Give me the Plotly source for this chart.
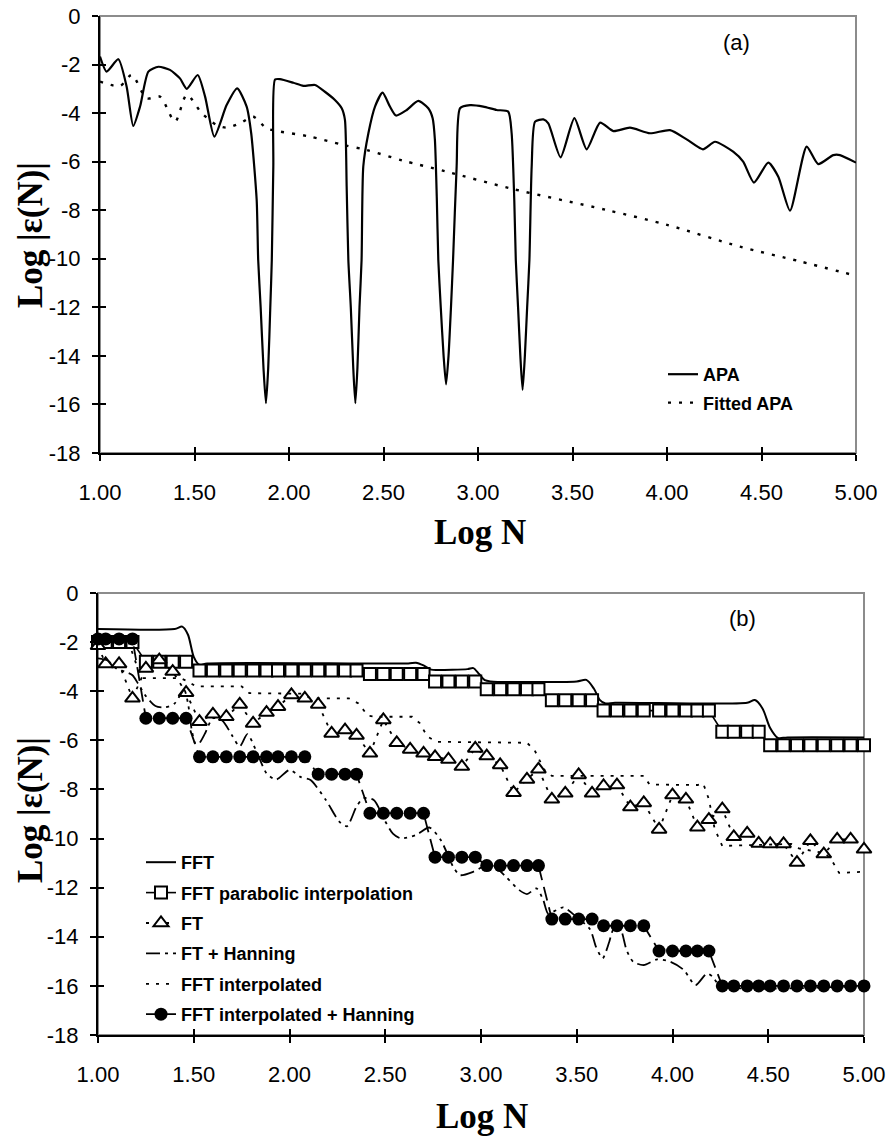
import plotly.graph_objects as go

# ---------------- Panel (a) data ----------------
apa_x = [1.000, 1.035, 1.097, 1.141, 1.176, 1.212, 1.256, 1.309, 1.370, 1.423, 1.459, 1.517,
         1.556, 1.605, 1.670, 1.726, 1.776, 1.800, 1.829, 1.837, 1.850, 1.865, 1.878, 1.890,
         1.901, 1.909, 1.917, 1.926, 1.952, 2.023, 2.076, 2.138, 2.190, 2.243, 2.279, 2.296,
         2.305, 2.314, 2.327, 2.340, 2.351, 2.362, 2.373, 2.384, 2.393, 2.420, 2.455, 2.495,
         2.534, 2.566, 2.623, 2.684, 2.737, 2.760, 2.772, 2.782, 2.790, 2.803, 2.818, 2.831,
         2.844, 2.857, 2.868, 2.887, 2.905, 2.958, 3.028, 3.098, 3.160, 3.178, 3.192, 3.200,
         3.212, 3.224, 3.236, 3.248, 3.260, 3.272, 3.284, 3.302, 3.346, 3.372, 3.437, 3.510,
         3.575, 3.646, 3.716, 3.804, 3.910, 4.016, 4.104, 4.190, 4.254, 4.350, 4.403, 4.460,
         4.536, 4.589, 4.651, 4.739, 4.800, 4.880, 4.915, 5.000]
apa_y = [-1.67, -2.29, -1.78, -2.91, -4.53, -3.73, -2.29, -2.09, -2.22, -2.57, -3.00, -2.43,
         -3.32, -4.97, -3.67, -2.98, -3.73, -4.83, -7.58, -10.05, -12.0, -14.5, -15.95, -14.5,
         -12.0, -10.05, -6.2, -2.62, -2.60, -2.75, -2.88, -2.84, -3.12, -3.46, -3.80, -4.28,
         -7.0, -10.05, -12.0, -14.5, -15.95, -14.5, -12.0, -10.05, -6.2, -4.83, -3.73, -3.16,
         -3.73, -4.10, -3.87, -3.50, -3.80, -4.21, -5.1, -7.5, -10.05, -12.0, -14.0, -15.17,
         -14.0, -12.0, -10.05, -6.2, -3.80, -3.67, -3.73, -3.87, -3.94, -4.83, -7.6, -10.05,
         -12.0, -14.0, -15.4, -14.0, -12.0, -10.05, -6.2, -4.35, -4.26, -4.42, -5.82, -4.21,
         -5.49, -4.39, -4.74, -4.60, -4.83, -4.70, -5.08, -5.49, -5.18, -5.59, -6.00, -6.86,
         -6.04, -6.62, -8.02, -5.38, -6.10, -5.73, -5.73, -6.04]

fit_x = [1.000, 1.106, 1.168, 1.247, 1.317, 1.397, 1.459, 1.538, 1.617, 1.670, 1.741, 1.811,
         1.882, 1.952, 2.100, 2.287, 2.411, 2.600, 2.834, 3.170, 3.680, 4.000, 4.386, 4.700, 5.000]
fit_y = [-2.70, -2.88, -2.43, -3.39, -3.32, -4.35, -3.25, -4.00, -4.49, -4.60, -4.42, -4.15,
         -4.63, -4.76, -4.95, -5.31, -5.52, -5.95, -6.41, -7.10, -7.99, -8.60, -9.50, -10.10, -10.70]

# ---------------- Panel (b) data ----------------
logN = [1.00, 1.04, 1.11, 1.18, 1.25, 1.32, 1.39, 1.46, 1.53, 1.60, 1.67, 1.74, 1.81, 1.88, 1.94,
        2.01, 2.08, 2.15, 2.22, 2.29, 2.35, 2.42, 2.49, 2.56, 2.63, 2.70, 2.76, 2.83, 2.90, 2.97,
        3.03, 3.10, 3.17, 3.24, 3.30, 3.37, 3.44, 3.51, 3.58, 3.64, 3.71, 3.78, 3.85, 3.93, 4.00,
        4.07, 4.13, 4.19, 4.26, 4.32, 4.39, 4.45, 4.51, 4.58, 4.65, 4.72, 4.79, 4.86, 4.93, 5.00]

fft_parabolic = [-2.0, -2.0, -2.0, -2.0,
                 -2.8, -2.8, -2.8, -2.8,
                 -3.16, -3.16, -3.16, -3.16, -3.16, -3.16, -3.16, -3.16, -3.16, -3.16, -3.16, -3.16, -3.16,
                 -3.3, -3.3, -3.3, -3.3, -3.3,
                 -3.6, -3.6, -3.6, -3.6,
                 -3.92, -3.92, -3.92, -3.92, -3.92,
                 -4.37, -4.37, -4.37, -4.37,
                 -4.79, -4.79, -4.79, -4.79, -4.79, -4.79, -4.79, -4.79, -4.79,
                 -5.65, -5.65, -5.65, -5.65,
                 -6.2, -6.2, -6.2, -6.2, -6.2, -6.2, -6.2, -6.2]

ft = [-2.15, -2.89, -2.89, -4.29, -3.07, -2.73, -3.20, -4.06, -5.24, -4.94, -5.04, -4.54,
      -5.31, -4.87, -4.63, -4.15, -4.29, -4.54, -5.72, -5.58, -5.80, -6.53, -5.17, -6.10,
      -6.37, -6.53, -6.67, -6.78, -7.07, -6.33, -6.64, -7.00, -8.13, -7.59, -7.18, -8.40,
      -8.16, -7.41, -8.16, -7.86, -7.82, -8.72, -8.55, -9.63, -8.23, -8.40, -9.54, -9.23,
      -8.80, -9.93, -9.79, -10.20, -10.22, -10.22, -10.98, -10.09, -10.63, -10.03, -10.03, -10.44]

fft_interp_hanning = [-1.87, -1.87, -1.87, -1.87,
                      -5.1, -5.1, -5.1, -5.1,
                      -6.67, -6.67, -6.67, -6.67, -6.67, -6.67, -6.67, -6.67, -6.67,
                      -7.38, -7.38, -7.38, -7.38,
                      -8.97, -8.97, -8.97, -8.97, -8.97,
                      -10.76, -10.76, -10.76, -10.76,
                      -11.1, -11.1, -11.1, -11.1, -11.1,
                      -13.28, -13.28, -13.28, -13.28,
                      -13.55, -13.55, -13.55, -13.55,
                      -14.58, -14.58, -14.58, -14.58, -14.58,
                      -16.0, -16.0, -16.0, -16.0, -16.0, -16.0, -16.0, -16.0, -16.0, -16.0, -16.0, -16.0]

fft_x = [1.00, 1.40, 1.44, 1.47, 1.50, 1.53, 1.57, 2.62, 2.66, 2.70, 2.74, 2.77, 2.93, 2.96,
         2.99, 3.02, 3.05, 3.50, 3.55, 3.59, 3.62, 3.65, 3.70, 4.39, 4.43, 4.47, 4.51, 4.55, 4.60, 5.00]
fft_y = [-1.47, -1.47, -1.37, -1.70, -2.60, -2.93, -2.87, -2.87, -2.84, -2.95, -3.12, -3.14,
         -3.10, -3.06, -3.30, -3.55, -3.60, -3.60, -3.54, -3.90, -4.35, -4.50, -4.47, -4.47,
         -4.36, -4.70, -5.50, -5.90, -5.88, -5.88]

fth_x = [1.00, 1.05, 1.10, 1.14, 1.18, 1.21, 1.25, 1.30, 1.35, 1.40, 1.45, 1.47, 1.49, 1.51,
         1.53, 1.56, 1.60, 1.65, 1.70, 1.74, 1.78, 1.83, 1.88, 1.93, 2.00, 2.06, 2.11, 2.19,
         2.26, 2.30, 2.35, 2.385, 2.44, 2.50, 2.54, 2.58, 2.66, 2.73, 2.79, 2.855, 2.89, 2.96,
         3.01, 3.06, 3.13, 3.20, 3.24, 3.29, 3.325, 3.35, 3.395, 3.43, 3.50, 3.57, 3.60, 3.635,
         3.67, 3.69, 3.726, 3.76, 3.795, 3.85, 3.92, 3.99, 4.06, 4.12, 4.18, 4.21, 4.25, 5.00]
fth_y = [-2.66, -2.75, -3.10, -3.20, -3.35, -3.70, -4.20, -4.60, -4.66, -4.50, -3.95, -4.50,
         -5.60, -6.15, -6.10, -5.70, -5.10, -5.20, -5.80, -6.25, -5.75, -6.50, -7.34, -7.60,
         -7.21, -7.50, -7.62, -8.43, -9.31, -9.50, -8.70, -8.36, -8.43, -9.30, -9.80, -9.99,
         -9.86, -9.55, -10.06, -11.15, -11.49, -11.35, -11.15, -11.08, -11.56, -12.10, -12.26,
         -12.03, -12.50, -13.05, -12.91, -12.80, -13.20, -13.70, -14.40, -14.88, -14.20, -13.73,
         -13.66, -14.54, -15.02, -15.15, -14.92, -15.02, -15.36, -15.97, -15.49, -15.63, -16.0, -16.0]

ffti_x = [1.00, 1.16, 1.20, 1.23, 1.43, 1.47, 1.51, 1.75, 1.79, 2.07, 2.11, 2.31, 2.36, 2.41,
          2.45, 2.64, 2.68, 2.72, 2.77, 3.24, 3.28, 3.33, 3.37, 3.85, 3.88, 4.13, 4.16, 4.19,
          4.22, 4.26, 4.62, 4.66, 4.80, 4.84, 4.87, 5.00]
ffti_y = [-2.0, -2.0, -2.9, -3.47, -3.47, -3.6, -3.8, -3.8, -4.08, -4.1, -4.29, -4.29, -4.5,
          -5.0, -5.04, -5.04, -5.3, -5.85, -6.06, -6.1, -6.4, -7.2, -7.45, -7.45, -7.8, -7.82,
          -7.75, -8.4, -9.6, -10.3, -10.22, -10.4, -10.6, -11.0, -11.4, -11.35]

y_ticks = [0, -2, -4, -6, -8, -10, -12, -14, -16, -18]
y_ticktext = ["0", "-2", "-4", "-6", "-8", "-10", "-12", "-14", "-16", "-18"]
x_ticks = [1.0, 1.5, 2.0, 2.5, 3.0, 3.5, 4.0, 4.5, 5.0]
x_ticktext = ["1.00", "1.50", "2.00", "2.50", "3.00", "3.50", "4.00", "4.50", "5.00"]

W, H = 889, 1141
TICKFONT = dict(family="Liberation Sans, Arial, sans-serif", size=22, color="black")
LEGFONT = dict(family="Liberation Sans, Arial, sans-serif", size=18, color="black", weight="bold")
TITLEFONT = dict(family="Liberation Serif, Times New Roman, serif", size=35, color="black", weight="bold")
DOT = "3px,7px"

fig = go.Figure()

# Panel (a)
fig.add_trace(go.Scatter(x=apa_x, y=apa_y, mode="lines", name="APA",
                         line=dict(color="black", width=2.2, shape="spline", smoothing=0.6),
                         xaxis="x", yaxis="y", legend="legend", legendgroup="a1"))
fig.add_trace(go.Scatter(x=fit_x, y=fit_y, mode="lines", name="Fitted APA",
                         line=dict(color="black", width=2.4, dash="3px,8px", shape="spline", smoothing=0.8),
                         xaxis="x", yaxis="y", legend="legend", legendgroup="a2"))

# Panel (b)
fig.add_trace(go.Scatter(x=fft_x, y=fft_y, mode="lines", name="FFT",
                         line=dict(color="black", width=2, shape="spline", smoothing=0.8),
                         xaxis="x2", yaxis="y2", legend="legend2", legendgroup="b1"))
fig.add_trace(go.Scatter(x=logN, y=fft_parabolic, mode="lines+markers", name="FFT parabolic interpolation",
                         line=dict(color="black", width=1.6),
                         marker=dict(symbol="square", size=12, color="white", line=dict(color="black", width=2)),
                         cliponaxis=False,
                         xaxis="x2", yaxis="y2", legend="legend2", legendgroup="b2"))
fig.add_trace(go.Scatter(x=logN, y=ft, mode="lines+markers", name="FT",
                         line=dict(color="black", width=1.8, dash=DOT),
                         marker=dict(symbol="triangle-up", size=13, color="white", line=dict(color="black", width=2)),
                         cliponaxis=False,
                         xaxis="x2", yaxis="y2", legend="legend2", legendgroup="b3"))
fig.add_trace(go.Scatter(x=fth_x, y=fth_y, mode="lines", name="FT + Hanning",
                         line=dict(color="black", width=1.8, dash="14px,5px,3px,5px,3px,5px",
                                   shape="spline", smoothing=0.7),
                         xaxis="x2", yaxis="y2", legend="legend2", legendgroup="b4"))
fig.add_trace(go.Scatter(x=ffti_x, y=ffti_y, mode="lines", name="FFT interpolated",
                         line=dict(color="black", width=1.8, dash=DOT),
                         xaxis="x2", yaxis="y2", legend="legend2", legendgroup="b5"))
fig.add_trace(go.Scatter(x=logN, y=fft_interp_hanning, mode="lines+markers", name="FFT interpolated + Hanning",
                         line=dict(color="black", width=1.8, dash="14px,7px"),
                         marker=dict(symbol="circle", size=13, color="black"),
                         cliponaxis=False,
                         xaxis="x2", yaxis="y2", legend="legend2", legendgroup="b6"))

# invisible traces that hold the inner-tick overlay axes
fig.add_trace(go.Scatter(x=[logN[0]], y=[ft[0]], mode="none", showlegend=False, hoverinfo="skip",
                         xaxis="x3", yaxis="y3"))
fig.add_trace(go.Scatter(x=[logN[0]], y=[ft[0]], mode="none", showlegend=False, hoverinfo="skip",
                         xaxis="x4", yaxis="y4"))

xa_dom = [100 / W, 856 / W]
ya_dom = [1 - 453 / H, 1 - 16 / H]
xb_dom = [98 / W, 864 / W]
yb_dom = [1 - 1035 / H, 1 - 593 / H]

def main_x(dom, anchor):
    return dict(domain=dom, anchor=anchor, range=[1, 5], tickmode="array", tickvals=x_ticks,
                ticktext=x_ticktext, ticks="outside", ticklen=6, tickwidth=1.5, tickcolor="black",
                showline=True, linecolor="black", linewidth=2, showgrid=False, zeroline=False,
                tickfont=TICKFONT, ticklabelstandoff=13, fixedrange=True, automargin=False)

def main_y(dom, anchor):
    return dict(domain=dom, anchor=anchor, range=[-18, 0], tickmode="array", tickvals=y_ticks,
                ticktext=y_ticktext, ticks="outside", ticklen=6, tickwidth=1.5, tickcolor="black",
                showline=True, linecolor="black", linewidth=2, showgrid=False, zeroline=False,
                tickfont=TICKFONT, ticklabelstandoff=7, fixedrange=True, automargin=False)

def over_x(over, anchor):
    return dict(overlaying=over, anchor=anchor, range=[1, 5], tickmode="array", tickvals=x_ticks,
                ticks="inside", ticklen=6, tickwidth=1.5, tickcolor="black", showticklabels=False,
                showline=False, showgrid=False, zeroline=False, fixedrange=True, automargin=False)

def over_y(over, anchor):
    return dict(overlaying=over, anchor=anchor, range=[-18, 0], tickmode="array", tickvals=y_ticks,
                ticks="inside", ticklen=6, tickwidth=1.5, tickcolor="black", showticklabels=False,
                showline=False, showgrid=False, zeroline=False, fixedrange=True, automargin=False)

fig.update_layout(
    width=W, height=H, margin=dict(l=0, r=0, t=0, b=0, autoexpand=False),
    paper_bgcolor="white", plot_bgcolor="white",
    xaxis=main_x(xa_dom, "y"), yaxis=main_y(ya_dom, "x"),
    xaxis2=main_x(xb_dom, "y2"), yaxis2=main_y(yb_dom, "x2"),
    xaxis3=over_x("x", "y3"), yaxis3=over_y("y", "x3"),
    xaxis4=over_x("x2", "y4"), yaxis4=over_y("y2", "x4"),
    legend=dict(x=663 / W, y=1 - 356 / H, xanchor="left", yanchor="top", font=LEGFONT,
                bgcolor="rgba(0,0,0,0)", traceorder="grouped", tracegroupgap=2),
    legend2=dict(x=141 / W, y=1 - 844 / H, xanchor="left", yanchor="top", font=LEGFONT,
                 bgcolor="rgba(0,0,0,0)", traceorder="grouped", tracegroupgap=4),
    showlegend=True,
)

# grey frame (top/right borders)
for xr, yr in (("x domain", "y domain"), ("x2 domain", "y2 domain")):
    fig.add_shape(type="rect", xref=xr, yref=yr, x0=0, x1=1, y0=0, y1=1,
                  line=dict(color="#8c8c8c", width=2), layer="below")

annots = [
    dict(text="(a)", x=736 / W, y=1 - 43 / H, font=dict(family="Liberation Sans, Arial", size=22, color="black")),
    dict(text="(b)", x=742 / W, y=1 - 618 / H, font=dict(family="Liberation Sans, Arial", size=22, color="black")),
    dict(text="Log N", x=480 / W, y=1 - 532 / H, font=TITLEFONT),
    dict(text="Log N", x=482 / W, y=1 - 1116 / H, font=TITLEFONT),
    dict(text="Log |ε(N)|", x=30 / W, y=1 - 235 / H, font=TITLEFONT, textangle=-90),
    dict(text="Log |ε(N)|", x=30 / W, y=1 - 810 / H, font=TITLEFONT, textangle=-90),
]
for a in annots:
    fig.add_annotation(xref="paper", yref="paper", xanchor="center", yanchor="middle",
                       showarrow=False, **a)

fig.write_html("out.html", config={"displayModeBar": False},
               post_script="document.body.style.margin='0';")
